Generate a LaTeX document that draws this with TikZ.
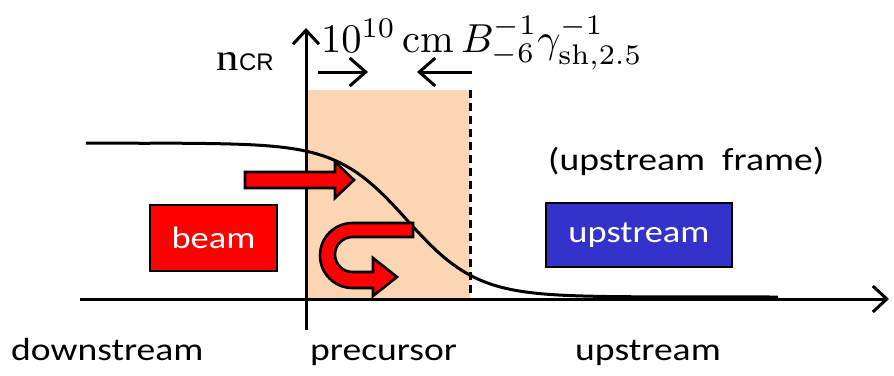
\documentclass[tikz,border=0pt]{standalone}
\usepackage{graphicx}
\usepackage{fontspec}
\usetikzlibrary{arrows.meta}
\newfontfamily\clb{Carlito}
\newfontfamily\arl{Liberation Sans}
\newfontfamily\tnr{Liberation Serif}
\newcommand{\hstr}[1]{\scalebox{1.175}[1]{#1}}
\definecolor{preorange}{RGB}{252,213,181}
\definecolor{upblue}{RGB}{51,51,204}
\tikzset{
  axis/.style={line width=3pt,-{Straight Barb[length=14pt,width=26pt,line width=3pt]}},
  widtharrow/.style={line width=3pt,-{Straight Barb[length=16pt,width=28pt,line width=3pt]}},
  lbl/.style={font=\clb\fontsize{32}{32}\selectfont,inner sep=0pt,anchor=base west},
  boxlbl/.style={font=\clb\fontsize{31}{31}\selectfont,text=white,draw=black,line width=1.8pt,inner sep=0pt},
  redarrow/.style={fill=red,draw=black,line width=2.6pt,line join=miter}
}
\begin{document}
\begin{tikzpicture}[x=1pt,y=-1pt]
\useasboundingbox (0,0) rectangle (894,375);
% precursor region
\fill[preorange] (306,90) rectangle (470,299);
\draw[line width=3pt,dash pattern=on 8pt off 5pt] (470,90) -- (470,299);
% axes
\coordinate (xs) at (80,299);
\coordinate (xe) at (889,299);
\coordinate (ys) at (306,330);
\coordinate (ye) at (306,28);
\draw[axis] (xs) -- (xe);
\draw[axis] (ys) -- (ye);
% density curve
\draw[line width=3pt] (86,143) -- (150,143.3)
  plot[domain=150:778,samples=160,smooth] (\x,{143+77*(1+tanh((\x-407)/70))});
% labels on axis
\node[anchor=base east,inner sep=0pt] (ncr) at (274,70)
  {\hstr{\tnr\fontsize{38}{38}\selectfont n}{\arl\fontsize{24}{24}\selectfont CR}};
\node[anchor=base west,inner sep=0pt] (scale) at (321,52)
  {\scalebox{4.05}{$10^{10}\,\mathrm{cm}\,B_{-6}^{-1}\gamma_{\mathrm{sh},2.5}^{-1}$}};
\coordinate (a1s) at (318,72);
\coordinate (a1e) at (368,72);
\coordinate (a2s) at (472,72);
\coordinate (a2e) at (417,72);
\draw[widtharrow] (a1s) -- (a1e);
\draw[widtharrow] (a2s) -- (a2e);
% boxes
\node[boxlbl,fill=red,minimum width=127pt,minimum height=66pt] (beam) at (213.5,238) {\hstr{beam}};
\node[boxlbl,fill=upblue,minimum width=186pt,minimum height=64pt] (up) at (639,235) {\hstr{upstream}};
\node[lbl] (frame) at (548,170) {\hstr{(upstream\ \ frame)}};
% straight red arrow
\draw[redarrow] (245,172) -- (335,172) -- (335,162) -- (354,180) -- (335,198) -- (335,188) -- (245,188) -- cycle;
% U-turn arrow
\draw[redarrow] (413,223) -- (352.5,223) arc[start angle=270,end angle=90,radius=32.5] -- (373,288) -- (373,296) -- (397,277) -- (373,258) -- (373,272) -- (352.5,272) arc[start angle=90,end angle=270,radius=17.5] -- (413,237) -- cycle;
% bottom labels
\node[lbl] (down) at (11,360) {\hstr{downstream}};
\node[lbl] (prec) at (310,360) {\hstr{precursor}};
\node[lbl] (ups) at (575,360) {\hstr{upstream}};
\end{tikzpicture}
\end{document}
